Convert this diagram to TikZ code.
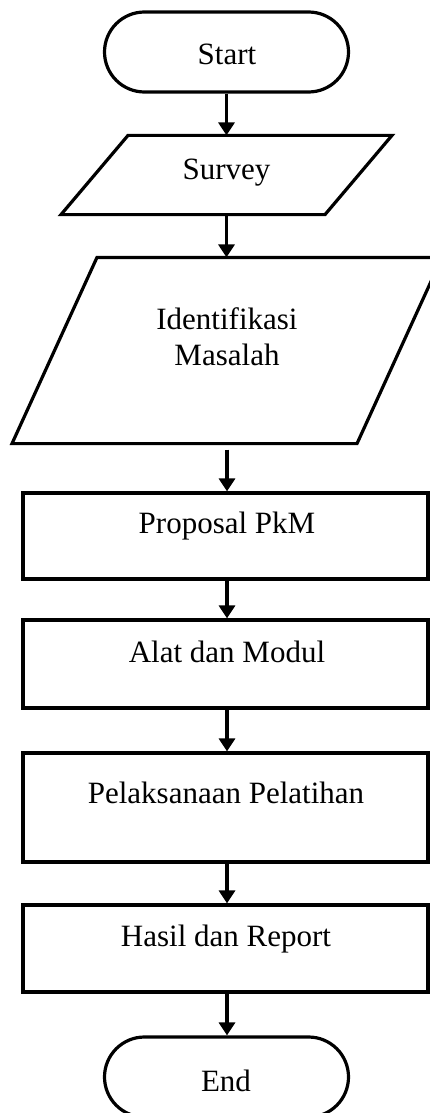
\documentclass[tikz,border=0pt]{standalone}
\usepackage{fontspec}
\setmainfont{Liberation Serif}
\usetikzlibrary{arrows.meta,shapes.misc}
\begin{document}
\begin{tikzpicture}[x=1pt,y=-1pt,line width=3.2pt,
  term/.style={draw,rounded rectangle,minimum width=244pt,minimum height=80pt,inner sep=0pt},
  box/.style={draw,rectangle,minimum width=405pt,inner sep=0pt},
  frame/.style={rectangle,inner sep=0pt,minimum width=1pt},
  txt/.style={anchor=base,inner sep=0pt,font=\fontsize{31}{37}\selectfont},
  flow/.style={-{Triangle[length=13pt,width=16pt]}}]
\useasboundingbox (0,0) rectangle (430,1113);
% shapes
\node[term] (start) at (226.5,52) {};
\node[frame,minimum height=76pt] (survey) at (226.5,175) {};
\draw ([xshift=-98.5pt]survey.north) -- ([xshift=165.5pt]survey.north)
  -- ([xshift=98.5pt]survey.south) -- ([xshift=-165.5pt]survey.south) -- cycle;
\node[frame,minimum height=183pt] (ident) at (227,350.5) {};
\draw ([xshift=-130pt]ident.north) -- ([xshift=215pt]ident.north)
  -- ([xshift=130pt]ident.south) -- ([xshift=-215pt]ident.south) -- cycle;
\node[box,minimum height=86pt] (prop) at (225.5,536) {};
\node[box,minimum height=88pt] (alat) at (225.5,664) {};
\node[box,minimum height=109pt] (pel) at (225.5,807.5) {};
\node[box,minimum height=87pt] (hasil) at (225.5,948.5) {};
\node[term] (end) at (226.5,1077) {};
% texts
\node[txt] (tstart) at (227,65) {Start};
\node[txt] (tsurvey) at (226.5,179) {Survey};
\node[txt] (tident1) at (227,329) {Identifikasi};
\node[txt] (tident2) at (227,365) {Masalah};
\node[txt] (tprop) at (227,533) {Proposal PkM};
\node[txt] (talat) at (227,662) {Alat dan Modul};
\node[txt] (tpel) at (226,803) {Pelaksanaan Pelatihan};
\node[txt] (thasil) at (226,946) {Hasil dan Report};
\node[txt] (tend) at (226,1091) {End};
% connectors
\draw[flow] (start.south) -- (start.south |- survey.north);
\draw[flow] (survey.south) -- (survey.south |- ident.north);
\draw[flow] ([yshift=-6pt]ident.south) -- (ident.south |- prop.north);
\draw[flow] (prop.south -| ident.south) -- (ident.south |- alat.north);
\draw[flow] (alat.south -| ident.south) -- (ident.south |- pel.north);
\draw[flow] (pel.south -| ident.south) -- (ident.south |- hasil.north);
\draw[flow] (hasil.south -| ident.south) -- (ident.south |- end.north);
\end{tikzpicture}
\end{document}
